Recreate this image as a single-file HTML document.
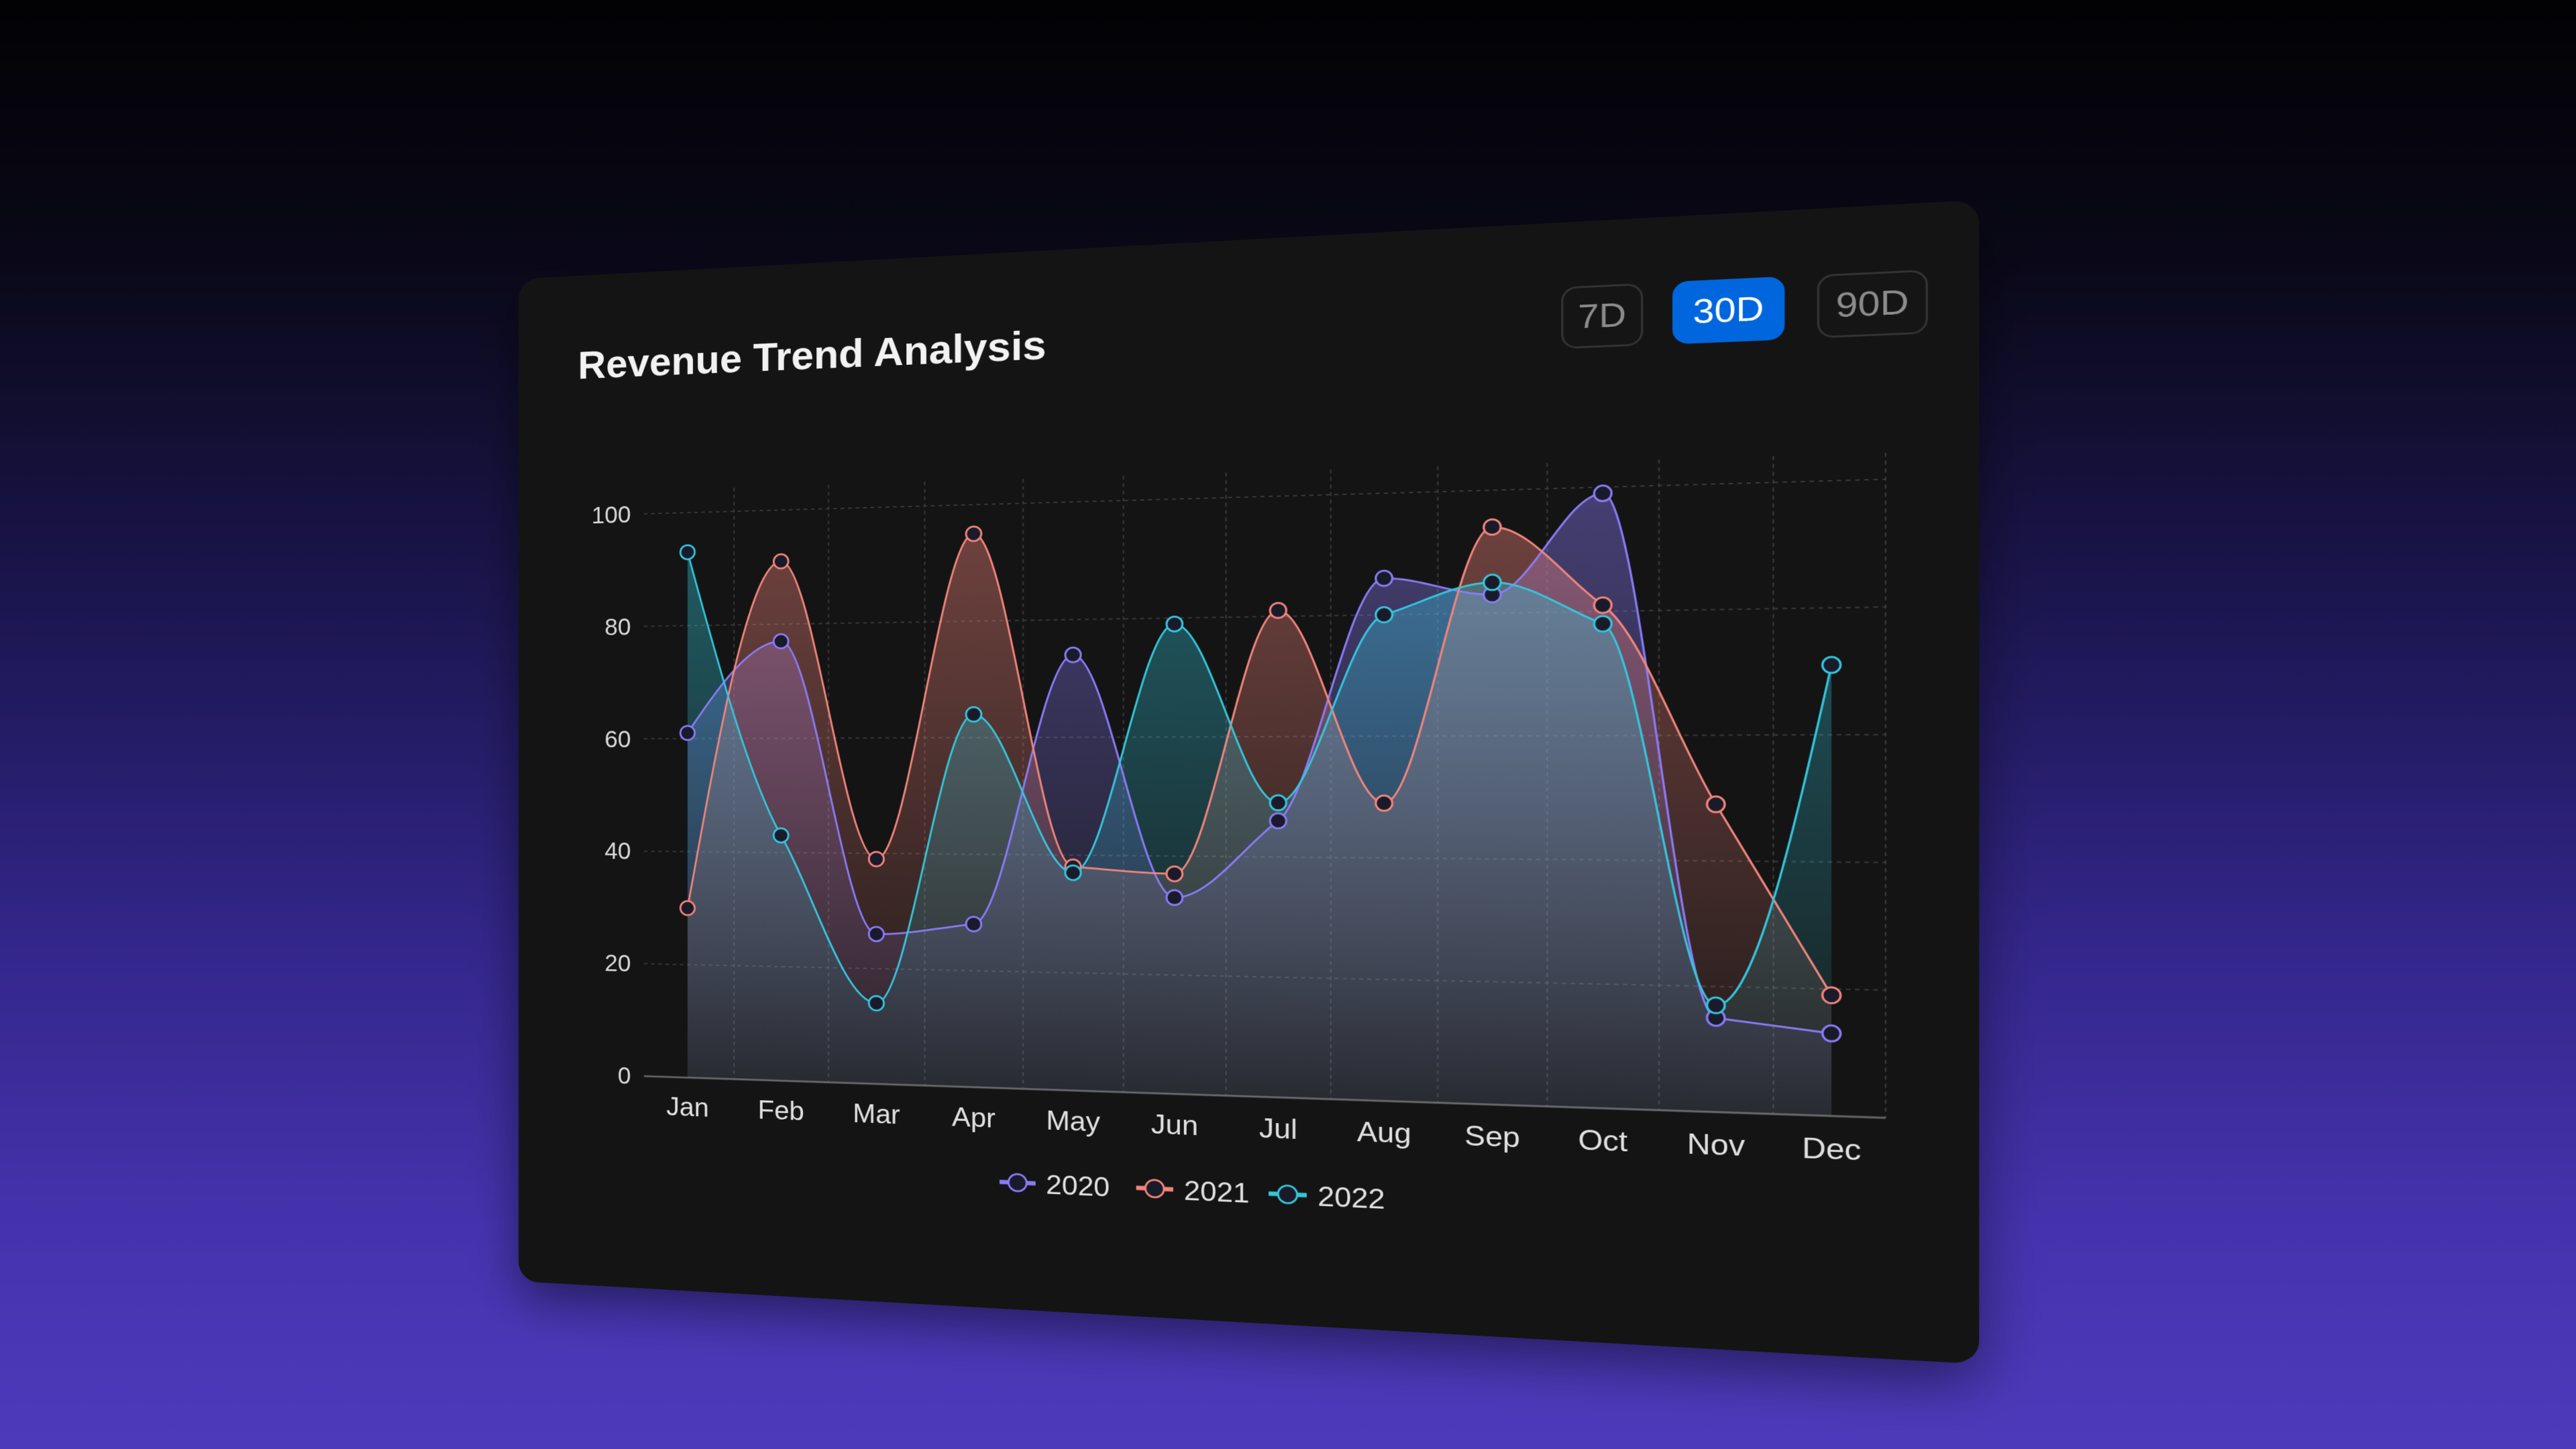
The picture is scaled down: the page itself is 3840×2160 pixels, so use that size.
<!DOCTYPE html>
<html><head><meta charset="utf-8">
<style>
html,body{margin:0;padding:0;}
body{width:3840px;height:2160px;overflow:hidden;position:relative;
background:linear-gradient(180deg,#020204 0%,#0a0818 18%,#1c1650 42%,#33268a 65%,#4533ae 85%,#4d3abb 100%);
font-family:"Liberation Sans",sans-serif;}
#card{position:absolute;left:0;top:0;width:2175px;height:1733px;background:#141414;border-radius:34px;transform-origin:0 0;box-shadow:0 30px 80px rgba(0,0,0,.45);}
#title{position:absolute;left:102px;top:116px;font-size:66px;font-weight:bold;color:#f2f2f2;white-space:nowrap;}
.btn{position:absolute;top:100px;height:96px;border-radius:22px;display:flex;align-items:center;justify-content:center;font-size:52px;color:#8c8c8c;border:3px solid #333;box-sizing:border-box;background:#151515;}
.btn.active{background:#0066dd;border-color:#0066dd;color:#fff;}
svg{position:absolute;left:0;top:0;}
</style></head>
<body>
<div id="card">
  <div id="title">Revenue Trend Analysis</div>
  <div class="btn" style="left:1617px;width:113px">7D</div>
  <div class="btn active" style="left:1770px;width:151px">30D</div>
  <div class="btn" style="left:1964px;width:145px">90D</div>
  <svg id="chart" width="2175" height="1733" viewBox="0 0 2175 1733"></svg>
</div>
<script>
const months=["Jan","Feb","Mar","Apr","May","Jun","Jul","Aug","Sep","Oct","Nov","Dec"];
const s2020=[61,77,26,28,74,33,46,86,83,99,15,13];
const s2021=[30,91,39,95,38,37,81,49,94,81,49,19];
const s2022=[93,43,14,64,37,79,49,80,85,78,17,71];
const seriesNames=["2020","2021","2022"];
const yTicks=[0,20,40,60,80,100];

const colors=["#8a7bf7","#f2857c","#34c6dc"];
const allSeries=[s2020,s2021,s2022];
const NS="http://www.w3.org/2000/svg";
const svg=document.getElementById('chart');
const plotL=214,plotR=2054,y0=1371,y100=412,x0=287,xStep=(1983-287)/11;
function xScale(i){return x0+i*xStep;}
function yScale(v){return y0-(v/100)*(y0-y100);}
function mk(tag,attrs,parent){const e=document.createElementNS(NS,tag);for(const k in attrs)e.setAttribute(k,attrs[k]);(parent||svg).appendChild(e);return e;}

const defs=mk('defs',{});
colors.forEach((c,i)=>{
  const g=mk('linearGradient',{id:'g'+i,x1:0,y1:y100,x2:0,y2:y0,gradientUnits:'userSpaceOnUse'},defs);
  mk('stop',{offset:0,'stop-color':c,'stop-opacity':0.42},g);
  mk('stop',{offset:1,'stop-color':c,'stop-opacity':0.06},g);
});

yTicks.forEach(t=>{
  const l=mk('line',{x1:plotL,x2:plotR,y1:yScale(t),y2:yScale(t),stroke:'#3a3a3a','stroke-width':2,'stroke-dasharray':'6 6'});
  
  
  const tx=mk('text',{x:192,y:yScale(t)+14,'text-anchor':'end',fill:'#d8d8d8','font-size':40,'font-family':'Liberation Sans, sans-serif'});
  tx.textContent=t;
  
  
});
for(let i=0;i<months.length;i++){
  const xb=i<months.length-1?xScale(i)+xStep/2:plotR;
  const l=mk('line',{x1:xb,x2:xb,y1:y100-40,y2:y0,stroke:'#3a3a3a','stroke-width':2,'stroke-dasharray':'6 6'});
  
  
  const tx=mk('text',{x:xScale(i),y:1436,'text-anchor':'middle',fill:'#e0e0e0','font-size':44,'font-family':'Liberation Sans, sans-serif'});
  tx.textContent=months[i];
  
  
}
const ax=mk('line',{x1:plotL,x2:plotR,y1:y0,y2:y0,stroke:'#666','stroke-width':3});



function curve(vals){
  const p=vals.map((v,i)=>[xScale(i),yScale(v)]);
  const n=p.length,h=xStep;
  const s=[];for(let i=0;i<n-1;i++)s.push((p[i+1][1]-p[i][1])/h);
  const m=new Array(n);
  for(let i=1;i<n-1;i++){
    if(s[i-1]*s[i]<=0)m[i]=0;
    else{const sg=Math.sign(s[i-1]);m[i]=sg*Math.min(Math.abs(s[i-1]),Math.abs(s[i]),Math.abs((s[i-1]+s[i])/2));}
  }
  m[0]=(3*s[0]-m[1])/2; if(m[0]*s[0]<=0)m[0]=0;
  m[n-1]=(3*s[n-2]-m[n-2])/2; if(m[n-1]*s[n-2]<=0)m[n-1]=0;
  let d='M'+p[0][0]+','+p[0][1];
  for(let i=0;i<n-1;i++){
    const dx=h/3;
    d+=' C'+(p[i][0]+dx)+','+(p[i][1]+m[i]*dx)+' '+(p[i+1][0]-dx)+','+(p[i+1][1]-m[i+1]*dx)+' '+p[i+1][0]+','+p[i+1][1];
  }
  return d;
}
allSeries.forEach((vals,si)=>{
  const a=mk('path',{d:curve(vals)+' L'+xScale(vals.length-1)+','+y0+' L'+xScale(0)+','+y0+' Z',fill:'url(#g'+si+')'});
  
  
});
allSeries.forEach((vals,si)=>{
  const l=mk('path',{d:curve(vals),fill:'none',stroke:colors[si],'stroke-width':3});
  
  
});
allSeries.forEach((vals,si)=>{
  vals.forEach((v,i)=>{
    const c=mk('circle',{cx:xScale(i),cy:yScale(v),r:12,fill:'#1a1b2a',stroke:colors[si],'stroke-width':3});
    
    
  });
});
const legX=[790,1000,1198];
seriesNames.forEach((n,si)=>{
  const g=mk('g',{});
  
  
  mk('line',{x1:legX[si],x2:legX[si]+56,y1:1525,y2:1525,stroke:colors[si],'stroke-width':7},g);
  mk('circle',{cx:legX[si]+28,cy:1525,r:14,fill:'#1a1b2a',stroke:colors[si],'stroke-width':3},g);
  const t=mk('text',{x:legX[si]+72,y:1541,fill:'#e0e0e0','font-size':44,'font-family':'Liberation Sans, sans-serif'},g);
  t.textContent=n;
});

function solve(A,b){const n=b.length;for(let i=0;i<n;i++){let m=i;for(let k=i+1;k<n;k++)if(Math.abs(A[k][i])>Math.abs(A[m][i]))m=k;[A[i],A[m]]=[A[m],A[i]];[b[i],b[m]]=[b[m],b[i]];for(let k=i+1;k<n;k++){const f=A[k][i]/A[i][i];for(let j=i;j<n;j++)A[k][j]-=f*A[i][j];b[k]-=f*b[i];}}const x=new Array(n);for(let i=n-1;i>=0;i--){let s=b[i];for(let j=i+1;j<n;j++)s-=A[i][j]*x[j];x[i]=s/A[i][i];}return x;}
const W=2175,H=1733;
const src=[[0,0],[W,0],[W,H],[0,H]];
const dst=[[773,416],[2951,298],[2951,2034],[773,1910]];
const A=[],B=[];
for(let i=0;i<4;i++){const [x,y]=src[i],[u,v]=dst[i];
A.push([x,y,1,0,0,0,-u*x,-u*y]);B.push(u);
A.push([0,0,0,x,y,1,-v*x,-v*y]);B.push(v);}
const h=solve(A,B);
document.getElementById('card').style.transform='matrix3d('+[h[0],h[3],0,h[6],h[1],h[4],0,h[7],0,0,1,0,h[2],h[5],0,1].join(',')+')';
</script>
</body></html>
